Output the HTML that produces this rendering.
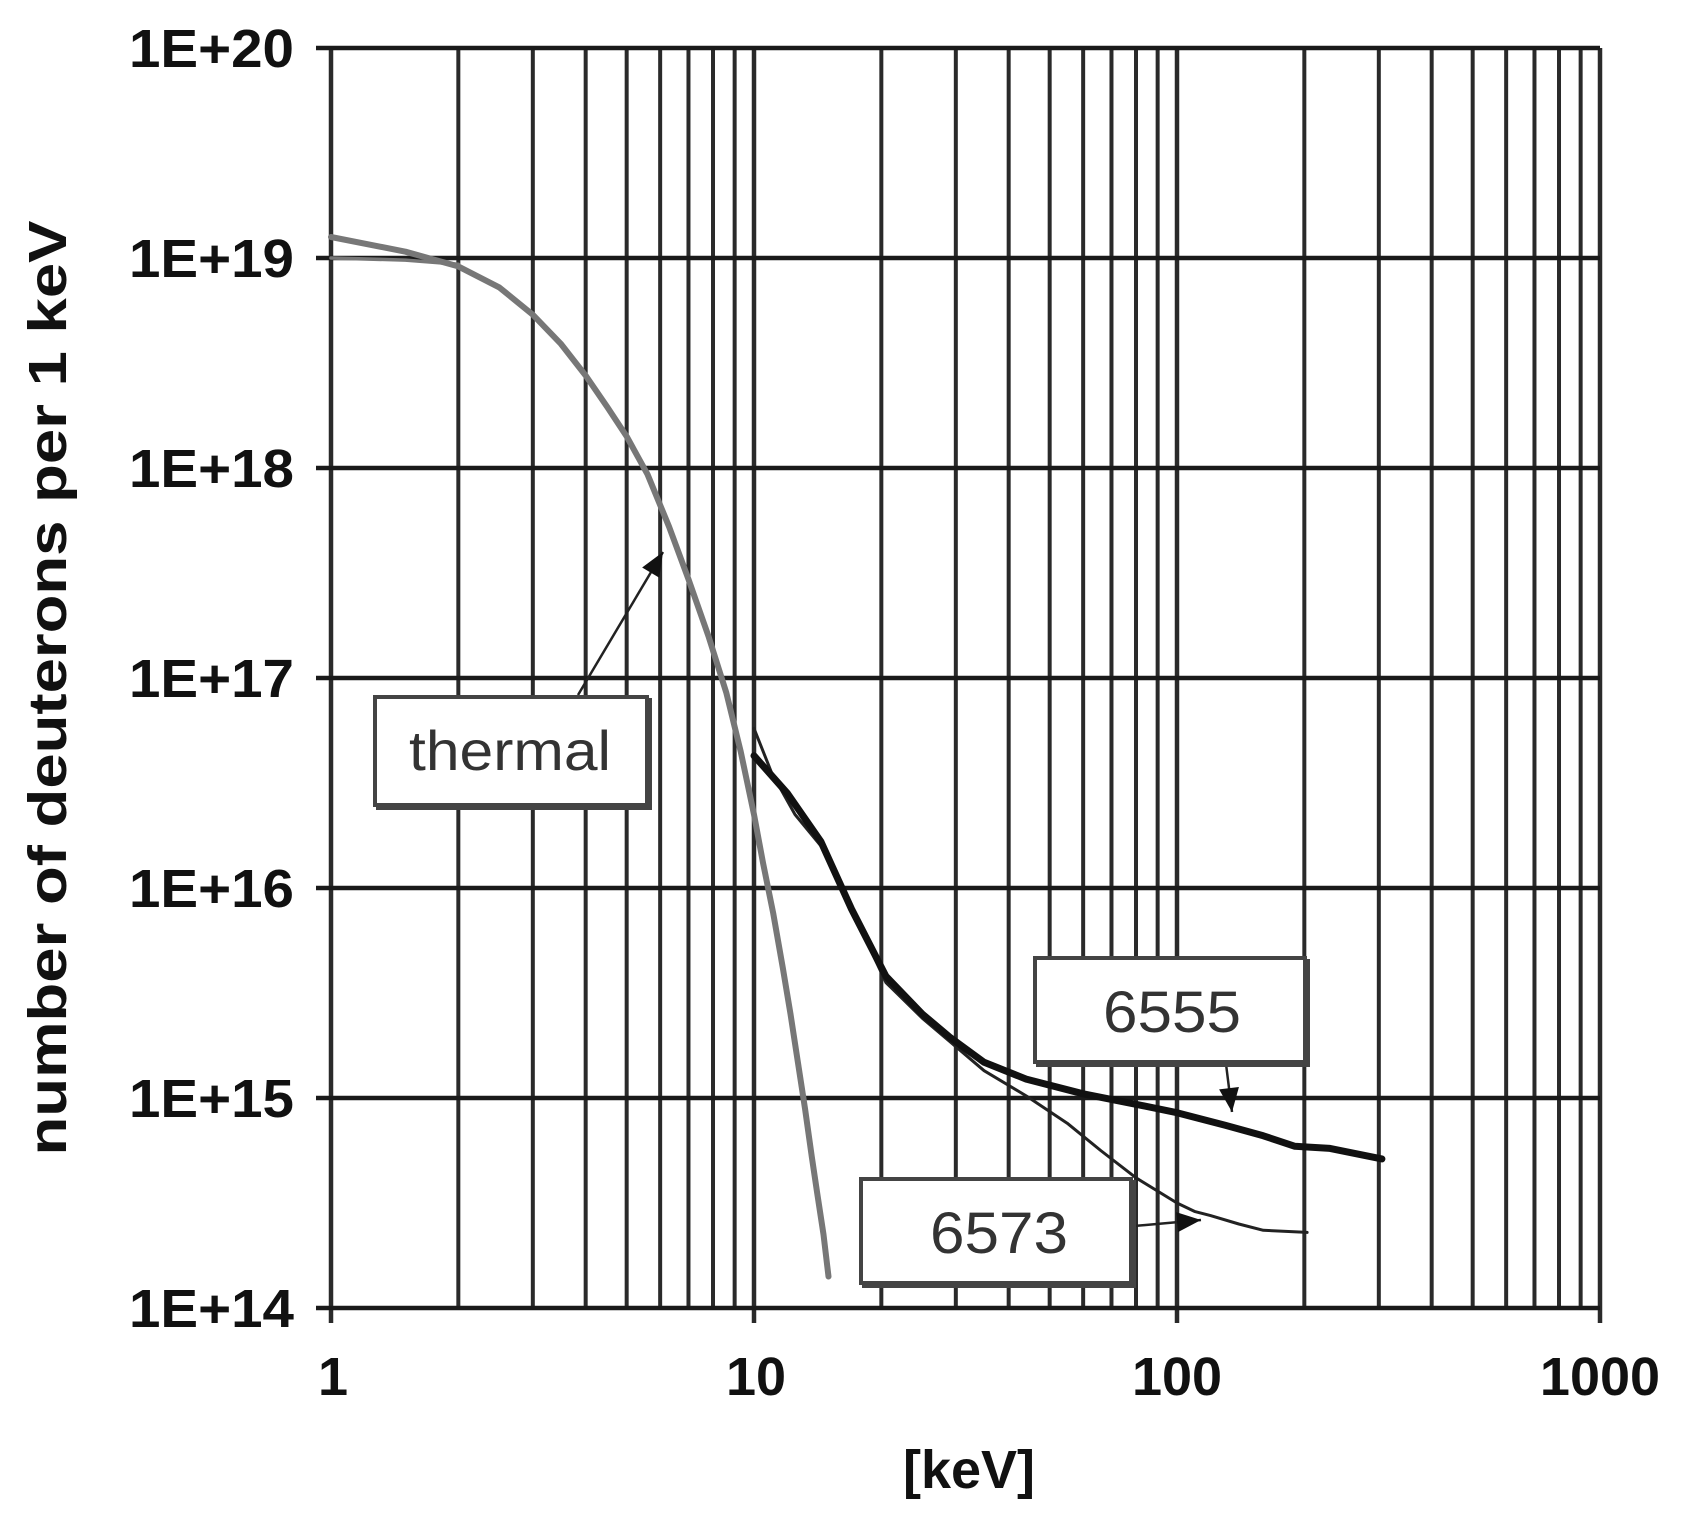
<!DOCTYPE html>
<html><head><meta charset="utf-8"><style>
html,body{margin:0;padding:0;background:#fff;}
svg{display:block;}
text{font-family:"Liberation Sans",Arial,sans-serif;}
</style></head><body>
<svg id="s" width="1693" height="1521" viewBox="0 0 1693 1521" xmlns="http://www.w3.org/2000/svg">
<rect width="1693" height="1521" fill="#fff"/>
<g id="grid"></g>
<g id="curves"></g>
<g font-weight="bold" font-size="54" fill="#111" text-anchor="end">
<text x="294" y="67" textLength="165" lengthAdjust="spacingAndGlyphs">1E+20</text>
<text x="294" y="277" textLength="165" lengthAdjust="spacingAndGlyphs">1E+19</text>
<text x="294" y="487" textLength="165" lengthAdjust="spacingAndGlyphs">1E+18</text>
<text x="294" y="697" textLength="165" lengthAdjust="spacingAndGlyphs">1E+17</text>
<text x="294" y="907" textLength="165" lengthAdjust="spacingAndGlyphs">1E+16</text>
<text x="294" y="1117" textLength="165" lengthAdjust="spacingAndGlyphs">1E+15</text>
<text x="294" y="1327" textLength="165" lengthAdjust="spacingAndGlyphs">1E+14</text>
</g>
<g font-weight="bold" font-size="54" fill="#111" text-anchor="middle">
<text x="333" y="1395">1</text>
<text x="756" y="1395">10</text>
<text x="1177" y="1395">100</text>
<text x="1600" y="1395">1000</text>
<text x="969" y="1488">[keV]</text>
<text transform="translate(66,688) rotate(-90)" textLength="935" lengthAdjust="spacingAndGlyphs">number of deuterons per 1 keV</text>
</g>
<g id="labels"></g>
</svg>
<script>
const NS="http://www.w3.org/2000/svg";
const X=e=>331+423*Math.log10(e);
const Y=l=>48+210*(20-l);
function el(p,t,a){const n=document.createElementNS(NS,t);for(const k in a)n.setAttribute(k,a[k]);p.appendChild(n);return n;}
const g=document.getElementById('grid');
for(let d=1;d<=100;d*=10)for(let m=1;m<=9;m++){const x=X(d*m);el(g,'line',{x1:x,y1:48,x2:x,y2:1308,stroke:'#2a2a2a','stroke-width':(m==1?4.5:4)});}
el(g,'line',{x1:X(1000),y1:48,x2:X(1000),y2:1323,stroke:'#2a2a2a','stroke-width':4.5});
[1,10,100].forEach(d=>el(g,'line',{x1:X(d),y1:1308,x2:X(d),y2:1323,stroke:'#2a2a2a','stroke-width':4.5}));
for(let l=14;l<=20;l++){el(g,'line',{x1:316,y1:Y(l),x2:X(1000),y2:Y(l),stroke:'#1a1a1a','stroke-width':4.5});}
const c=document.getElementById('curves');
function path(pts,st,w){let d=pts.map((p,i)=>(i?'L':'M')+X(p[0]).toFixed(1)+','+Y(p[1]).toFixed(1)).join(' ');el(c,'path',{d:d,fill:'none',stroke:st,'stroke-width':w,'stroke-linejoin':'round','stroke-linecap':'round'});}
path([[1,19.0],[1.5,18.99],[2,18.97]],'#777',3.5);
path([[1,19.1],[1.5,19.03],[2,18.96],[2.5,18.86],[3,18.73],[3.5,18.59],[4,18.44],[4.5,18.29],[5,18.15],[5.6,17.97],[6.3,17.72],[7,17.47],[7.8,17.2],[8.6,16.93],[9.3,16.65],[10,16.35],[10.5,16.12],[11.1,15.88],[11.7,15.62],[12.2,15.4],[12.7,15.17],[13.2,14.95],[13.7,14.72],[14.1,14.55],[14.6,14.35],[15,14.15]],'#777',6);
path([[10,16.76],[11,16.55],[12.5,16.35],[14.4,16.2],[17,15.9],[20.5,15.55],[25,15.38],[29,15.27],[35,15.13],[44,15.01],[55,14.88],[66,14.75],[80,14.62],[100,14.5],[110,14.46],[120,14.44],[140,14.4],[160,14.37],[203,14.36]],'#222',3);
path([[10,16.63],[12,16.45],[14.4,16.22],[17,15.9],[20.5,15.58],[25,15.4],[29,15.29],[35,15.17],[44,15.09],[60,15.02],[80,14.97],[100,14.93],[130,14.87],[160,14.82],[190,14.77],[230,14.76],[305,14.71]],'#111',7);
const L=document.getElementById('labels');
function box(x,y,w,h,txt,tx,ty,tl,fs){el(L,'rect',{x:x+3,y:y+3,width:w,height:h,fill:'none',stroke:'#444','stroke-width':4});el(L,'rect',{x:x,y:y,width:w,height:h,fill:'#fff',stroke:'#444','stroke-width':4});const t=el(L,'text',{x:tx,y:ty,'font-size':fs,fill:'#333','text-anchor':'middle',textLength:tl,lengthAdjust:'spacingAndGlyphs'});t.textContent=txt;}
function arrow(x1,y1,x2,y2){el(L,'line',{x1:x1,y1:y1,x2:x2,y2:y2,stroke:'#222','stroke-width':2.5});const a=Math.atan2(y2-y1,x2-x1),s=24;const p=[[x2,y2],[x2-s*Math.cos(a)+10*Math.sin(a),y2-s*Math.sin(a)-10*Math.cos(a)],[x2-s*Math.cos(a)-10*Math.sin(a),y2-s*Math.sin(a)+10*Math.cos(a)]];el(L,'polygon',{points:p.map(q=>q.join(',')).join(' '),fill:'#111'});}
arrow(578,695,663,552);
box(375,697,272,108,'thermal',510,770,202,56);
arrow(1226,1064,1232,1112);
box(1035,958,270,104,'6555',1172,1032,138,58);
arrow(1134,1226,1201,1220);
box(861,1179,270,104,'6573',999,1253,138,58);
</script>
</body></html>
